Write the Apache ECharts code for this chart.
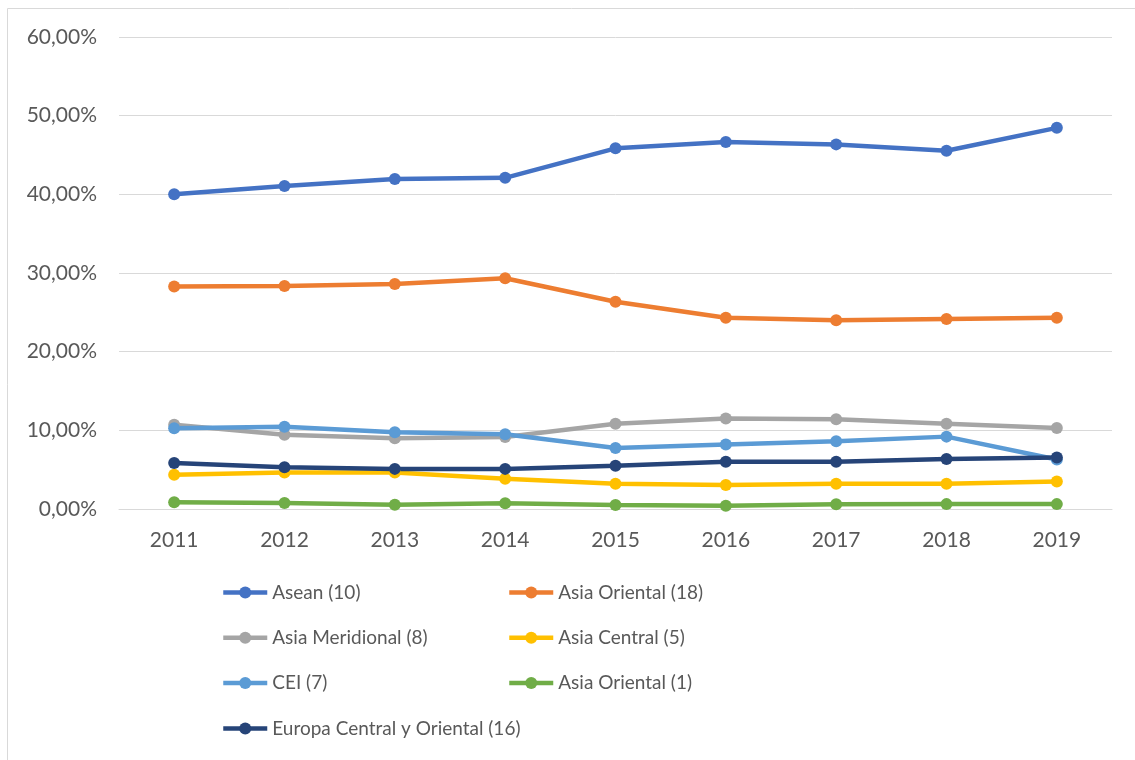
<!DOCTYPE html>
<html>
<head>
<meta charset="utf-8">
<script src="https://cdn.jsdelivr.net/npm/echarts@6/dist/echarts.min.js"></script>
<style>html,body{margin:0;padding:0;background:#fff}#c{width:1135px;height:760px}</style>
</head>
<body>
<div id="c"></div>
<script>
const years = ['2011','2012','2013','2014','2015','2016','2017','2018','2019'];
const asean = [40.0, 41.05, 41.95, 42.1, 45.85, 46.65, 46.35, 45.55, 48.45];
const asiaOriental18 = [28.27, 28.35, 28.6, 29.33, 26.35, 24.3, 24.0, 24.15, 24.3];
const asiaMeridional = [10.7, 9.45, 9.0, 9.15, 10.85, 11.5, 11.4, 10.85, 10.3];
const asiaCentral = [4.35, 4.65, 4.65, 3.85, 3.2, 3.05, 3.2, 3.2, 3.5];
const cei = [10.25, 10.45, 9.75, 9.5, 7.75, 8.2, 8.6, 9.2, 6.3];
const asiaOriental1 = [0.85, 0.75, 0.55, 0.72, 0.5, 0.42, 0.6, 0.62, 0.62];
const europa = [5.85, 5.3, 5.1, 5.1, 5.5, 6.0, 6.0, 6.35, 6.55];
const yTicks = [0, 10, 20, 30, 40, 50, 60];

const names = ['Asean (10)','Asia Oriental (18)','Asia Meridional (8)','Asia Central (5)','CEI (7)','Asia Oriental (1)','Europa Central y Oriental (16)'];
const colors = ['#4472C4','#ED7D31','#A5A5A5','#FFC000','#5B9BD5','#70AD47','#264478'];
const datas = [asean, asiaOriental18, asiaMeridional, asiaCentral, cei, asiaOriental1, europa];

const font = 'Lato, "Open Sans", sans-serif';
const chart = echarts.init(document.getElementById('c'));
const legendCommon = {
  orient: 'vertical', itemWidth: 44, itemHeight: 15, itemGap: 24.3, top: 582, padding: 0,
  lineStyle: {width: 4.5},
  textStyle: {fontFamily: font, fontSize: 19, color: '#595959', lineHeight: 21}
};
chart.setOption({
  animation: false,
  graphic: [{type:'rect', shape:{x:7.5,y:8.5,width:1200,height:800}, style:{fill:'none', stroke:'#d9d9d9', lineWidth:1}, silent:true}],
  grid: {left: 119, right: 23, top: 37, bottom: 251},
  legend: [
    Object.assign({left: 221, data: [names[0], names[2], names[4], names[6]]}, legendCommon),
    Object.assign({left: 507, data: [names[1], names[3], names[5]]}, legendCommon)
  ],
  xAxis: {
    type: 'category', data: years, boundaryGap: true,
    axisLine: {lineStyle: {color: '#d9d9d9', width: 1}},
    axisTick: {show: false},
    axisLabel: {fontFamily: font, fontSize: 21, color: '#595959', margin: 21}
  },
  yAxis: {
    type: 'value', min: yTicks[0], max: yTicks[yTicks.length-1], interval: 10,
    axisLine: {show: false}, axisTick: {show: false},
    splitLine: {lineStyle: {color: '#d9d9d9', width: 1}},
    axisLabel: {fontFamily: font, fontSize: 21, color: '#595959', margin: 22,
      formatter: v => v.toFixed(2).replace('.', ',') + '%'}
  },
  series: names.map((n, i) => ({
    name: n, type: 'line', data: datas[i],
    symbol: 'circle', symbolSize: 12,
    lineStyle: {color: colors[i], width: 4.5},
    itemStyle: {color: colors[i]}
  }))
});
</script>
</body>
</html>
